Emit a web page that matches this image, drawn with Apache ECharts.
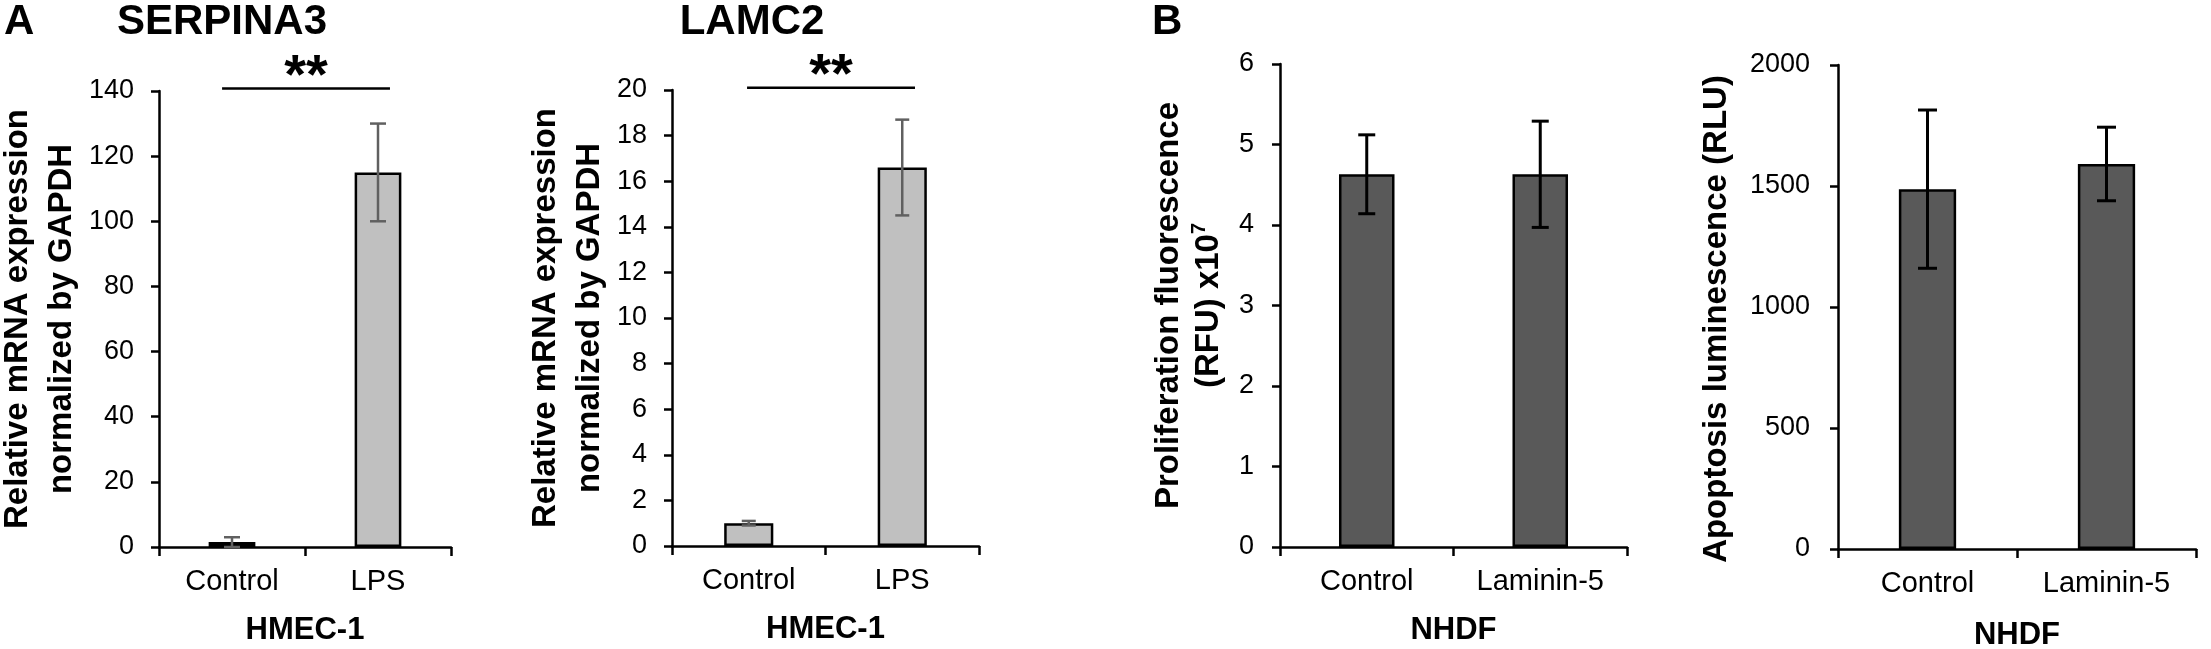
<!DOCTYPE html>
<html><head><meta charset="utf-8">
<script src="https://cdn.jsdelivr.net/npm/echarts@6/dist/echarts.min.js"></script>
<style>html,body{margin:0;padding:0;background:#fff}#c{width:2211px;height:649px}</style>
</head><body><div id="c"></div>
<script>
const FONT = "Arial, 'Liberation Sans', sans-serif";
// ---- data ----
const catsA = ['Control', 'LPS'];
const serpina3Mean = [1.5, 115];
const serpina3Err = [1.5, 15];
const lamc2Mean = [1.0, 16.6];
const lamc2Err = [0.1, 2.1];
const catsB = ['Control', 'Laminin-5'];
const prolifMean = [4.63, 4.63];
const prolifErr = [0.49, 0.66];
const apopMean = [1487, 1591];
const apopErr = [327, 152];
const sigSerpina3 = [[0, 1, 140.8]];
const sigLamc2 = [[0, 1, 20.1]];
const sigLabel = '**';

const chart = echarts.init(document.getElementById('c'), null, {renderer: 'canvas'});

function errRender(color, width, capHalf) {
  return function (params, api) {
    const x = api.value(0), m = api.value(1), e = api.value(2);
    const top = api.coord([x, m + e]);
    const bot = api.coord([x, Math.max(0, m - e)]);
    const st = {stroke: color, lineWidth: width};
    return {type: 'group', children: [
      {type: 'line', shape: {x1: top[0], y1: top[1], x2: bot[0], y2: bot[1]}, style: st},
      {type: 'line', shape: {x1: top[0] - capHalf, y1: top[1], x2: top[0] + capHalf, y2: top[1]}, style: st},
      {type: 'line', shape: {x1: bot[0] - capHalf, y1: bot[1], x2: bot[0] + capHalf, y2: bot[1]}, style: st}
    ]};
  };
}
function sigRender(padL, padR) {
  return function (params, api) {
    const a = api.coord([api.value(0), api.value(2)]);
    const b = api.coord([api.value(1), api.value(2)]);
    const band = api.size([1, 0])[0];
    const x1 = a[0] - padL * band, x2 = b[0] + padR * band;
    return {type: 'group', children: [
      {type: 'line', shape: {x1: x1, y1: a[1], x2: x2, y2: a[1]}, style: {stroke: '#000', lineWidth: 2.5}},
      {type: 'text', x: (x1 + x2) / 2, y: a[1] - 11, style: {text: sigLabel, fill: '#000',
        font: 'bold 56px ' + FONT, align: 'center', verticalAlign: 'middle'}}
    ]};
  };
}
const toErr = (m, e) => m.map((v, i) => [i, v, e[i]]);

const axLine = {show: true, lineStyle: {color: '#000', width: 2.5}};
function yAx(gi, max, interval, name, gap, labelMargin, nameStyle) {
  return {gridIndex: gi, type: 'value', min: 0, max: max, interval: interval,
    name: name, nameLocation: 'middle', nameRotate: 90, nameGap: gap,
    nameTextStyle: Object.assign({fontSize: 33, fontWeight: 'bold', fontFamily: FONT, color: '#000', lineHeight: 44}, nameStyle || {}),
    axisLine: axLine,
    axisTick: {show: true, length: 8, lineStyle: {color: '#000', width: 2.5}},
    axisLabel: {fontSize: 27, margin: labelMargin, color: '#000', fontFamily: FONT, formatter: v => String(v)},
    splitLine: {show: false}};
}
function xAx(gi, cats, name, gap) {
  return {gridIndex: gi, type: 'category', data: cats, name: name, nameLocation: 'middle', nameGap: gap,
    nameTextStyle: {fontSize: 31, fontWeight: 'bold', fontFamily: FONT, color: '#000'},
    axisLine: axLine,
    axisTick: {show: true, length: 9, interval: 0, alignWithLabel: false, lineStyle: {color: '#000', width: 2.5}},
    axisLabel: {fontSize: 29, margin: 20, interval: 0, color: '#000', fontFamily: FONT},
    splitLine: {show: false}};
}
function barS(gi, data, color) {
  return {type: 'bar', xAxisIndex: gi, yAxisIndex: gi, data: data, barWidth: '32%', silent: true,
    itemStyle: {color: color, borderColor: '#000', borderWidth: 2.5}};
}
function errS(gi, data, color, w, cap) {
  return {type: 'custom', xAxisIndex: gi, yAxisIndex: gi, data: data, z: 5, silent: true,
    renderItem: errRender(color, w, cap)};
}
const titleStyle = {fontSize: 42, fontWeight: 'bold', fontFamily: FONT, color: '#000', lineHeight: 44};

chart.setOption({
  animation: false,
  backgroundColor: '#fff',
  title: [
    {text: 'A', left: 4, top: 0, padding: 0, textStyle: titleStyle},
    {text: 'SERPINA3', left: 222, top: 0, padding: 0, textAlign: 'center', textStyle: titleStyle},
    {text: 'LAMC2', left: 752, top: 0, padding: 0, textAlign: 'center', textStyle: titleStyle},
    {text: 'B', left: 1152, top: 0, padding: 0, textStyle: titleStyle}
  ],
  grid: [
    {left: 159, top: 91, width: 292, height: 456, containLabel: false, outerBoundsMode: 'none'},
    {left: 672, top: 90, width: 307, height: 456, containLabel: false, outerBoundsMode: 'none'},
    {left: 1280, top: 64, width: 347, height: 483, containLabel: false, outerBoundsMode: 'none'},
    {left: 1838, top: 65, width: 358, height: 484, containLabel: false, outerBoundsMode: 'none'}
  ],
  xAxis: [
    xAx(0, catsA, 'HMEC-1', 68),
    xAx(1, catsA, 'HMEC-1', 68),
    xAx(2, catsB, 'NHDF', 68),
    xAx(3, catsB, 'NHDF', 71)
  ],
  yAxis: [
    yAx(0, 140, 20, 'Relative mRNA expression\nnormalized by GAPDH', 75, 25),
    yAx(1, 20, 2, 'Relative mRNA expression\nnormalized by GAPDH', 60, 25),
    yAx(2, 6, 1, 'Proliferation fluorescence\n(RFU) x10{sup|7}', 51, 26,
      {lineHeight: 40, rich: {sup: {fontSize: 20, fontWeight: 'bold', fontFamily: FONT, color: '#000', lineHeight: 24, verticalAlign: 'top'}}}),
    yAx(3, 2000, 500, 'Apoptosis luminescence (RLU)', 101, 28, {lineHeight: 40, padding: [0, 24, 0, 0]})
  ],
  series: [
    barS(0, serpina3Mean, '#c0c0c0'),
    barS(1, lamc2Mean, '#c0c0c0'),
    barS(2, prolifMean, '#595959'),
    barS(3, apopMean, '#595959'),
    errS(0, toErr(serpina3Mean, serpina3Err), '#606060', 2.5, 8),
    errS(1, toErr(lamc2Mean, lamc2Err), '#606060', 2.5, 7),
    errS(2, toErr(prolifMean, prolifErr), '#000', 3, 8.5),
    errS(3, toErr(apopMean, apopErr), '#000', 3, 9.5),
    {type: 'custom', xAxisIndex: 0, yAxisIndex: 0, data: sigSerpina3, clip: false, silent: true, z: 6, renderItem: sigRender(0.068, 0.082)},
    {type: 'custom', xAxisIndex: 1, yAxisIndex: 1, data: sigLamc2, clip: false, silent: true, z: 6, renderItem: sigRender(0.011, 0.083)}
  ]
});
</script></body></html>
